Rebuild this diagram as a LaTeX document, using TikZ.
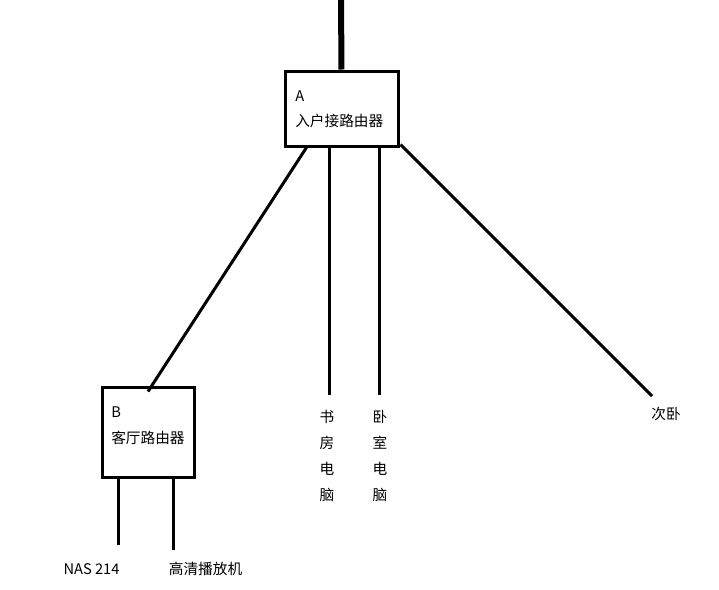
\documentclass[tikz,border=0pt]{standalone}
\usepackage{fontspec}
\setmainfont{Noto Sans CJK SC}
\usetikzlibrary{calc,positioning}

\begin{document}
\begin{tikzpicture}[x=0.75pt,y=-0.75pt,
	router/.style = {draw, rectangle, line width=2.25pt, inner sep=0pt},
	cable/.style = {line width=2.25pt},
	txt/.style = {inner sep=0pt, font=\fontsize{11}{19.5}\selectfont}]
		\useasboundingbox (0,0) rectangle (719,590);
		% routers
		\node[router, minimum width=84.75pt, minimum height=56.25pt] (A) at (341.5,108.5) {};
		\node[router, minimum width=69pt, minimum height=67.5pt] (B) at (148,432) {};
		\node[txt, anchor=west] (Aname) at (295,96) {A};
		\node[txt, anchor=west] (Atitle) at (295,121) {入户接路由器};
		\node[txt, anchor=west] (Bname) at (111,412) {B};
		\node[txt, anchor=west] (Btitle) at (111,438) {客厅路由器};
		% end points
		\node[txt, align=center] (study) at (327,456) {书\\房\\电\\脑};
		\node[txt, align=center] (bedroom) at (380,456) {卧\\室\\电\\脑};
		\node[txt] (guest) at (666,414) {次卧};
		\node[txt] (nas) at (91.5,569) {NAS 214};
		\node[txt] (player) at (205.5,569) {高清播放机};
		\coordinate (isp) at (341,0);
		\coordinate (studyend) at (329,395);
		\coordinate (bedroomend) at (379,395);
		\coordinate (guestend) at (652,396);
		\coordinate (nasend) at (118,545);
		\coordinate (playerend) at (173,550);
		% cables
		\draw[line width=4.5pt] (isp) -- (A.north);
		\draw[cable] ($(A.south west)+(23,0)$) -- ($(B.north)+(0,6)$);
		\draw[cable] (studyend |- A.south) -- (studyend);
		\draw[cable] (bedroomend |- A.south) -- (bedroomend);
		\draw[cable] ($(A.south east)+(1,-3)$) -- (guestend);
		\draw[cable] (nasend |- B.south) -- (nasend);
		\draw[cable] (playerend |- B.south) -- (playerend);
	\end{tikzpicture}
\end{document}
